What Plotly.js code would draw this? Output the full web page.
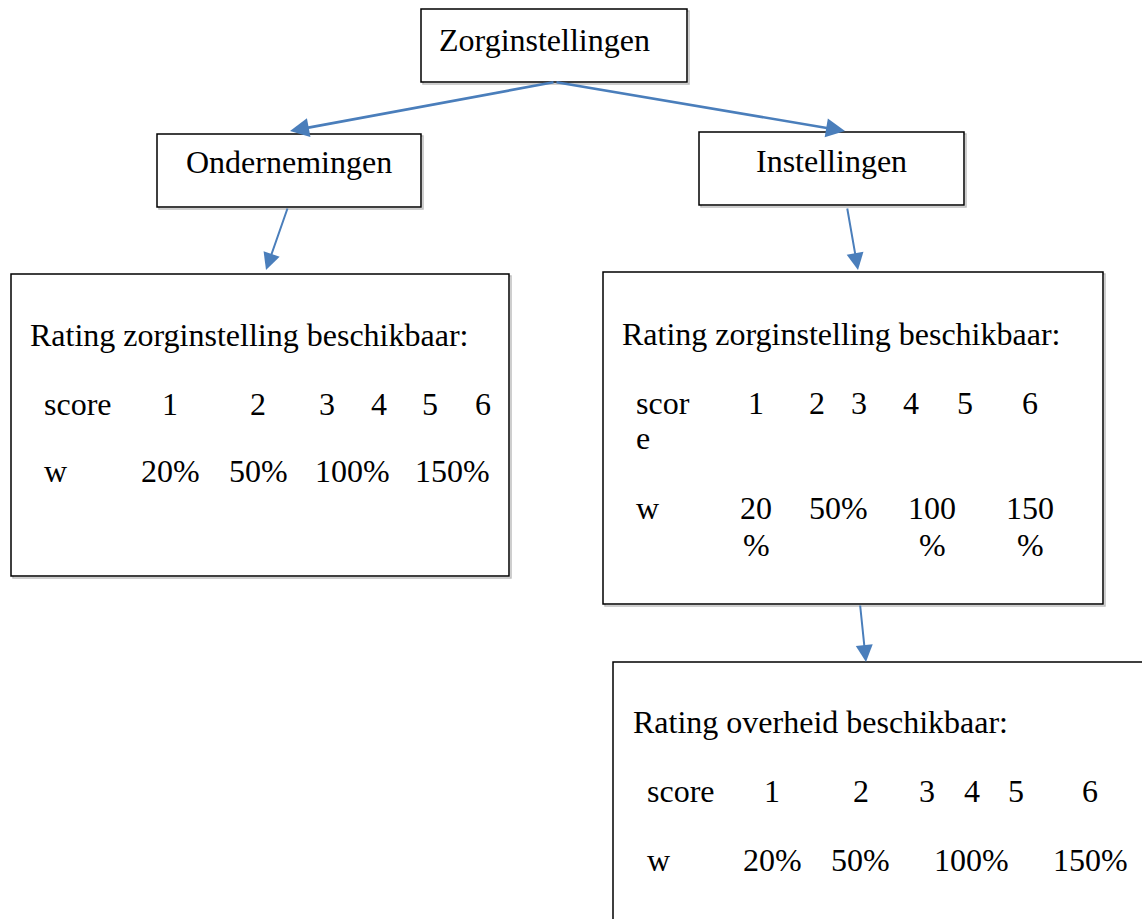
<!DOCTYPE html>
<html><head><meta charset="utf-8">
<script src="https://cdn.plot.ly/plotly-3.0.1.min.js"></script>
<style>html,body{margin:0;padding:0;background:#fff}</style>
</head><body><div id="chart" style="width:1142px;height:919px"></div>
<script>
// ---- content ----
const topNode = "Zorginstellingen";
const childNodes = ["Ondernemingen", "Instellingen"];
const ratingTitles = ["Rating zorginstelling beschikbaar:", "Rating zorginstelling beschikbaar:", "Rating overheid beschikbaar:"];
const rowLabels = ["score", "w"];
const scores = ["1", "2", "3", "4", "5", "6"];
const weights = ["20%", "50%", "100%", "150%"];

// ---- layout geometry (pixel space) ----
const FONT = "Liberation Serif, Times New Roman, serif";
const FS = 32;
const BLUE = "#4a7ebb";
const shapes = [];
const ann = [];
function box(x0, y0, x1, y1) {
  shapes.push({type: "rect", xref: "x", yref: "y", x0: x0 + 2, y0: y0 + 2, x1: x1 + 2, y1: y1 + 2,
    line: {color: "#bfbfbf", width: 1.5}, fillcolor: "rgba(0,0,0,0)", layer: "below"});
  shapes.push({type: "rect", xref: "x", yref: "y", x0, y0, x1, y1,
    line: {color: "#000", width: 1.5}, fillcolor: "#fff"});
}
function txt(s, x, baseline, anchor) {
  const a = anchor || "left";
  ann.push({text: s, x: a === "left" ? x - 3 : x, y: baseline - 11, xref: "x", yref: "y", showarrow: false,
    xanchor: a, yanchor: "middle", font: {family: FONT, size: FS, color: "#000"}});
}
function arrow(x0, y0, x1, y1, w, hs) {
  ann.push({x: x1, y: y1, ax: x0, ay: y0, xref: "x", yref: "y", axref: "x", ayref: "y", text: "",
    showarrow: true, arrowhead: 2, arrowsize: hs / w, arrowwidth: w, arrowcolor: BLUE});
}

// boxes
box(421, 9, 687, 82);
box(157, 134, 421, 207);
box(699, 132, 964, 205);
box(11, 274, 509, 576);
box(603, 272, 1103, 604);
box(613, 662, 1160, 940);

// arrows
arrow(555, 82, 290, 131, 2.6, 3.8);
arrow(555, 82, 845, 131, 2.6, 3.8);
arrow(288, 207, 266, 270, 2, 3.4);
arrow(847, 207, 858, 270, 2, 3.4);
arrow(860, 604, 866, 662, 2, 3.4);

// node titles
txt(topNode, 440, 51);
txt(childNodes[0], 289, 173, "center");
txt(childNodes[1], 831, 172, "center");

// box 1
txt(ratingTitles[0], 31, 346);
txt(rowLabels[0], 45, 415);
[170, 258, 327, 379, 430, 483].forEach((x, i) => txt(scores[i], x, 415, "center"));
txt(rowLabels[1], 45, 482);
[170, 258, 352, 452].forEach((x, i) => txt(weights[i], x, 482, "center"));

// box 2 (narrow table cells -> wrapped text)
txt(ratingTitles[1], 623, 345);
txt(rowLabels[0].slice(0, 4), 637, 414);
txt(rowLabels[0].slice(4), 637, 449);
[756, 817, 859, 911, 965, 1030].forEach((x, i) => txt(scores[i], x, 414, "center"));
txt(rowLabels[1], 637, 519);
const wrapX = [756, 838, 932, 1030];
weights.forEach((w, i) => {
  if (w === "50%") { txt(w, wrapX[i], 519, "center"); return; }
  txt(w.slice(0, -1), wrapX[i], 519, "center");
  txt("%", wrapX[i], 556, "center");
});

// box 3
txt(ratingTitles[2], 634, 733);
txt(rowLabels[0], 648, 802);
[772, 861, 927, 972, 1016, 1090].forEach((x, i) => txt(scores[i], x, 802, "center"));
txt(rowLabels[1], 648, 871);
[772, 860, 971, 1090].forEach((x, i) => txt(weights[i], x, 871, "center"));

const layout = {
  width: 1142, height: 919, margin: {l: 0, r: 0, t: 0, b: 0},
  paper_bgcolor: "#fff", plot_bgcolor: "#fff", showlegend: false,
  xaxis: {range: [0, 1142], visible: false, fixedrange: true},
  yaxis: {range: [919, 0], visible: false, fixedrange: true},
  shapes, annotations: ann
};
Plotly.newPlot("chart", [{x: [], y: [], type: "scatter", mode: "markers"}], layout, {staticPlot: true, displayModeBar: false});
</script></body></html>
